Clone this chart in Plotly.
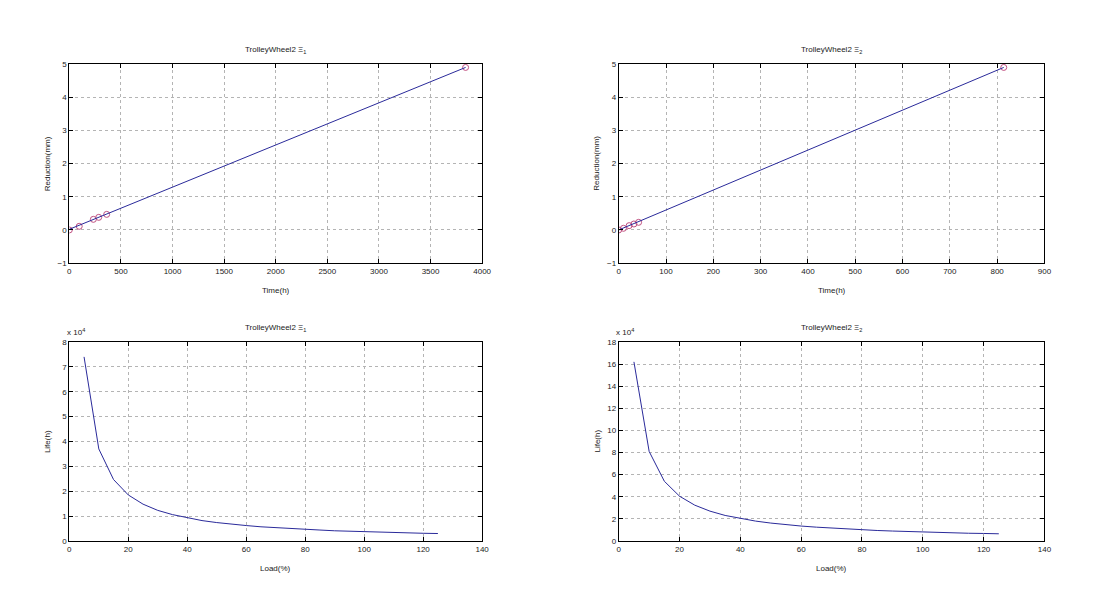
import plotly.graph_objects as go

# ---- data ----
t1_time = [0, 96, 233, 285, 362, 3840]
t1_red = [0, 0.11, 0.32, 0.38, 0.47, 4.9]
t1_fit_x = [0, 3840]
t1_fit_y = [0.02, 4.9]

t2_time = [0, 10, 22, 32, 42, 814]
t2_red = [0, 0.05, 0.13, 0.18, 0.23, 4.9]
t2_fit_x = [0, 814]
t2_fit_y = [0.0, 4.9]

load = [5, 10, 15, 20, 25, 30, 35, 40, 45, 50, 55, 60, 65, 70, 75, 80, 85, 90,
        95, 100, 105, 110, 115, 120, 125]
life1 = [74000, 37000, 24700, 18500, 14800, 12300, 10600, 9300, 8200, 7400,
         6700, 6200, 5700, 5300, 4900, 4600, 4400, 4100, 3900, 3700, 3500,
         3400, 3200, 3100, 3000]
life2 = [162000, 81000, 54000, 40500, 32400, 27000, 23100, 20300, 18000, 16200,
         14700, 13500, 12500, 11600, 10800, 10100, 9500, 9000, 8500, 8100, 7700,
         7400, 7000, 6800, 6500]

titles = ["TrolleyWheel2 Ξ<sub>1</sub>", "TrolleyWheel2 Ξ<sub>2</sub>",
          "TrolleyWheel2 Ξ<sub>1</sub>", "TrolleyWheel2 Ξ<sub>2</sub>"]

LINE = "#2a2a9a"
MARK = "#c05080"
FONT = "Liberation Sans Narrow, Liberation Sans, Arial"

fig = go.Figure()

fig.add_trace(go.Scatter(x=t1_time, y=t1_red, mode="markers", xaxis="x", yaxis="y",
                         marker=dict(symbol="circle-open", size=6, color=MARK, line=dict(width=1)),
                         showlegend=False))
fig.add_trace(go.Scatter(x=t1_fit_x, y=t1_fit_y, mode="lines", xaxis="x", yaxis="y",
                         line=dict(color=LINE, width=1), showlegend=False))
fig.add_trace(go.Scatter(x=t2_time, y=t2_red, mode="markers", xaxis="x2", yaxis="y2",
                         marker=dict(symbol="circle-open", size=6, color=MARK, line=dict(width=1)),
                         showlegend=False))
fig.add_trace(go.Scatter(x=t2_fit_x, y=t2_fit_y, mode="lines", xaxis="x2", yaxis="y2",
                         line=dict(color=LINE, width=1), showlegend=False))
fig.add_trace(go.Scatter(x=load, y=life1, mode="lines", xaxis="x3", yaxis="y3",
                         line=dict(color=LINE, width=1), showlegend=False))
fig.add_trace(go.Scatter(x=load, y=life2, mode="lines", xaxis="x4", yaxis="y4",
                         line=dict(color=LINE, width=1), showlegend=False))

W, H = 1094, 612
L1, R1 = 68 / W, 485 / W
L2, R2 = 623 / W, 1053 / W
TOP_B, TOP_T = 1 - 263 / H, 1 - 61 / H
BOT_B, BOT_T = 1 - 545 / H, 1 - 343 / H


def ax(domain, anchor, rng, dtick=None, tickvals=None, ticktext=None):
    d = dict(domain=domain, anchor=anchor, range=rng, showline=True, linecolor="black",
             linewidth=1, mirror="ticks", ticks="inside", ticklen=4, tickcolor="black",
             showgrid=True, gridcolor="#b4b4b4", griddash="dot", gridwidth=1,
             zeroline=False, tickfont=dict(size=8, color="#222", family=FONT))
    if dtick is not None:
        d["dtick"] = dtick
        d["tick0"] = rng[0]
    if tickvals is not None:
        d["tickmode"] = "array"
        d["tickvals"] = tickvals
        d["ticktext"] = ticktext
    return d


y3_vals = [i * 10000 for i in range(9)]
y4_vals = [i * 20000 for i in range(10)]

fig.update_layout(
    width=W, height=H, margin=dict(l=0, r=0, t=0, b=0),
    paper_bgcolor="white", plot_bgcolor="white",
    xaxis=ax([L1, R1], "y", [0, 4000], dtick=500),
    yaxis=ax([TOP_B, TOP_T], "x", [-1, 5], dtick=1),
    xaxis2=ax([L2, R2], "y2", [0, 900], dtick=100),
    yaxis2=ax([TOP_B, TOP_T], "x2", [-1, 5], dtick=1),
    xaxis3=ax([L1, R1], "y3", [0, 140], dtick=20),
    yaxis3=ax([BOT_B, BOT_T], "x3", [0, 80000], tickvals=y3_vals,
              ticktext=[str(i) for i in range(9)]),
    xaxis4=ax([L2, R2], "y4", [0, 140], dtick=20),
    yaxis4=ax([BOT_B, BOT_T], "x4", [0, 180000], tickvals=y4_vals,
              ticktext=[str(i * 2) for i in range(10)]),
)

ann = []
small = dict(size=8, color="#222", family=FONT)
# titles
for (l, r, ytop, txt) in [(L1, R1, TOP_T, titles[0]), (L2, R2, TOP_T, titles[1]),
                          (L1, R1, BOT_T, titles[2]), (L2, R2, BOT_T, titles[3])]:
    ann.append(dict(x=(l + r) / 2, y=ytop + 0.012, xref="paper", yref="paper",
                    text=txt, showarrow=False, xanchor="center", yanchor="bottom", font=small))
# x-axis titles
for (l, r, yb, txt) in [(L1, R1, TOP_B, "Time(h)"), (L2, R2, TOP_B, "Time(h)"),
                        (L1, R1, BOT_B, "Load(%)"), (L2, R2, BOT_B, "Load(%)")]:
    ann.append(dict(x=(l + r) / 2, y=yb - 0.035, xref="paper", yref="paper",
                    text=txt, showarrow=False, xanchor="center", yanchor="top", font=small))
# y-axis titles
for (l, yb, yt, txt) in [(L1, TOP_B, TOP_T, "Reduction(mm)"), (L2, TOP_B, TOP_T, "Reduction(mm)"),
                         (L1, BOT_B, BOT_T, "Life(h)"), (L2, BOT_B, BOT_T, "Life(h)")]:
    ann.append(dict(x=l - 0.014, y=(yb + yt) / 2, xref="paper", yref="paper",
                    text=txt, showarrow=False, xanchor="right", yanchor="middle",
                    textangle=-90, font=small))
# exponent labels
for l in [L1, L2]:
    ann.append(dict(x=l - 0.004, y=BOT_T + 0.005, xref="paper", yref="paper",
                    text="x 10<sup>4</sup>", showarrow=False, xanchor="left", yanchor="bottom",
                    font=small))
fig.update_layout(annotations=ann)

fig.write_html("out.html")
